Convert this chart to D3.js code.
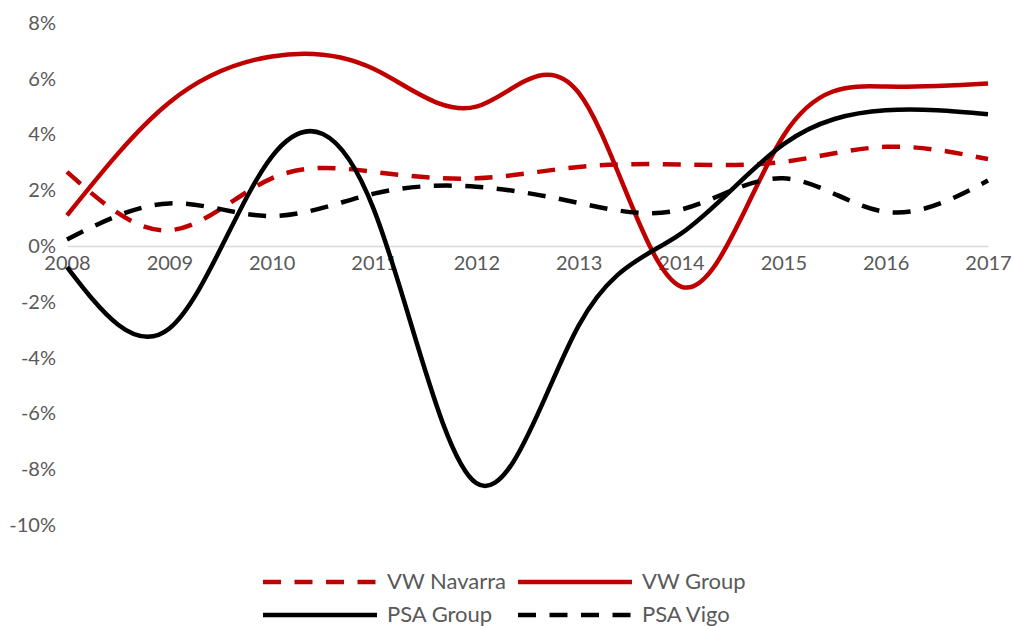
<!DOCTYPE html>
<html>
<head>
<meta charset="utf-8">
<script src="https://cdn.jsdelivr.net/npm/d3@7"></script>
<style>
  html, body { margin: 0; padding: 0; background: #ffffff; }
  svg { display: block; font-family: Lato, "Open Sans", sans-serif; }
</style>
</head>
<body>
<svg id="chart" width="1013" height="626"></svg>
<script>
// Annual change (%) by year
const years = [2008, 2009, 2010, 2011, 2012, 2013, 2014, 2015, 2016, 2017];
const vwNavarra = [2.66, 0.57, 2.43, 2.66, 2.43, 2.84, 2.93, 3.02, 3.56, 3.12];
const vwGroup   = [1.1, 5.15, 6.8, 6.35, 5.0, 5.5, -1.45, 3.95, 5.72, 5.83];
const psaGroup  = [-0.75, -2.95, 3.2, 1.3, -8.5, -2.85, 0.45, 3.65, 4.87, 4.73];
const psaVigo   = [0.24, 1.53, 1.08, 1.88, 2.13, 1.55, 1.31, 2.43, 1.23, 2.35];
const yTicks = [-10, -8, -6, -4, -2, 0, 2, 4, 6, 8];

const seriesNames = ["VW Navarra", "VW Group", "PSA Group", "PSA Vigo"];
const seriesValues = [vwNavarra, vwGroup, psaGroup, psaVigo];
const seriesColors = ["#C00000", "#C00000", "#000000", "#000000"];
const seriesDashed = [true, false, false, true];

const svg = d3.select("#chart");
const textColor = "#595959";

const x = d3.scaleLinear().domain([2008, 2017]).range([67, 988]);
const y = d3.scaleLinear().domain([-10, 8]).range([525, 23]);

// Y axis labels (no axis line)
const yAxis = svg.append("g")
  .attr("transform", `translate(${x(2008)},0)`)
  .call(d3.axisLeft(y).tickValues(yTicks).tickSize(0).tickPadding(11)
    .tickFormat(d => d + "%"));
yAxis.select(".domain").remove();
yAxis.selectAll("text")
  .attr("fill", textColor)
  .style("font-size", "20px")
  .style("font-family", "Lato, sans-serif");

// Horizontal axis line at zero with year labels
const xAxis = svg.append("g")
  .attr("transform", `translate(0,${y(0)})`)
  .call(d3.axisBottom(x).tickValues(years).tickSize(0).tickPadding(10)
    .tickFormat(d3.format("d")));
xAxis.select(".domain").attr("stroke", "#d9d9d9").attr("stroke-width", 1.5);
xAxis.selectAll("text")
  .attr("fill", textColor)
  .style("font-size", "20px")
  .style("font-family", "Lato, sans-serif");

// Smoothed series lines
const line = d3.line()
  .x((d, i) => x(years[i]))
  .y(d => y(d))
  .curve(d3.curveNatural);

const plot = svg.append("g");
seriesValues.forEach((vals, i) => {
  plot.append("path")
    .datum(vals)
    .attr("d", line)
    .attr("fill", "none")
    .attr("stroke", seriesColors[i])
    .attr("stroke-width", 4.5)
    .attr("stroke-dasharray", seriesDashed[i] ? "18,13.5" : null);
});

// Legend: two rows, two columns
const legendPos = [
  { x: 263, y: 582 }, { x: 518, y: 582 },
  { x: 263, y: 615 }, { x: 518, y: 615 }
];
const legend = svg.append("g");
seriesNames.forEach((name, i) => {
  const p = legendPos[i];
  legend.append("line")
    .attr("x1", p.x).attr("x2", p.x + 114)
    .attr("y1", p.y).attr("y2", p.y)
    .attr("stroke", seriesColors[i])
    .attr("stroke-width", 4.5)
    .attr("stroke-dasharray", seriesDashed[i] ? "18,13.5" : null);
  legend.append("text")
    .attr("x", p.x + 124)
    .attr("y", p.y - 2)
    .attr("dominant-baseline", "central")
    .attr("fill", textColor)
    .style("font-size", "22px")
    .text(name);
});
</script>
</body>
</html>
